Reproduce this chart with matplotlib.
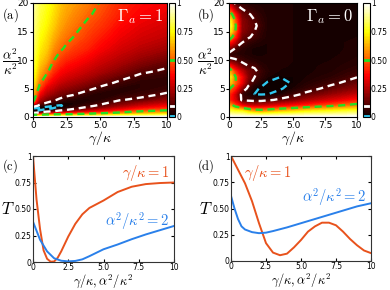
import numpy as np
import matplotlib
matplotlib.use('Agg')
import matplotlib.pyplot as plt

plt.rcParams['mathtext.fontset'] = 'cm'

# ---------------- panel (a): Gamma_a = 1 ----------------
gam_a = [0, 0.5, 1, 1.5, 2, 2.5, 3, 4, 5, 6.5, 8, 10]
alp_a = [0, 0.25, 0.5, 0.75, 1, 1.25, 1.5, 1.75, 2, 2.5, 3, 4, 5, 6, 7, 8, 10, 12, 14, 16, 18, 20]
# one list per gamma value, running along alpha^2
T_a = [
    [1.0, 0.62, 0.40, 0.07, 0.010, 0.003, 0.008, 0.09, 0.20, 0.47, 0.56, 0.65, 0.70, 0.74, 0.77, 0.79, 0.82, 0.85, 0.87, 0.88, 0.90, 0.91],
    [1.0, 0.64, 0.42, 0.13, 0.03, 0.005, 0.003, 0.02, 0.07, 0.17, 0.24, 0.35, 0.45, 0.52, 0.58, 0.62, 0.68, 0.72, 0.75, 0.78, 0.80, 0.82],
    [1.0, 0.66, 0.45, 0.20, 0.07, 0.02, 0.004, 0.007, 0.03, 0.10, 0.16, 0.25, 0.32, 0.40, 0.47, 0.53, 0.62, 0.67, 0.70, 0.73, 0.75, 0.77],
    [1.0, 0.68, 0.47, 0.26, 0.10, 0.04, 0.011, 0.006, 0.012, 0.06, 0.12, 0.20, 0.27, 0.33, 0.38, 0.43, 0.51, 0.58, 0.63, 0.67, 0.70, 0.72],
    [1.0, 0.70, 0.49, 0.30, 0.14, 0.07, 0.03, 0.012, 0.008, 0.03, 0.08, 0.16, 0.22, 0.28, 0.33, 0.37, 0.45, 0.52, 0.57, 0.61, 0.64, 0.66],
    [1.0, 0.72, 0.50, 0.33, 0.18, 0.10, 0.05, 0.025, 0.014, 0.02, 0.05, 0.13, 0.20, 0.25, 0.30, 0.34, 0.41, 0.48, 0.53, 0.57, 0.60, 0.62],
    [1.0, 0.73, 0.51, 0.36, 0.22, 0.13, 0.08, 0.045, 0.03, 0.02, 0.04, 0.11, 0.18, 0.23, 0.28, 0.32, 0.39, 0.45, 0.50, 0.54, 0.57, 0.60],
    [1.0, 0.76, 0.54, 0.40, 0.29, 0.20, 0.14, 0.10, 0.07, 0.04, 0.03, 0.06, 0.13, 0.19, 0.24, 0.28, 0.35, 0.41, 0.45, 0.48, 0.52, 0.55],
    [1.0, 0.78, 0.58, 0.45, 0.35, 0.27, 0.20, 0.15, 0.115, 0.07, 0.045, 0.035, 0.08, 0.14, 0.19, 0.24, 0.30, 0.36, 0.40, 0.44, 0.47, 0.495],
    [1.0, 0.81, 0.63, 0.52, 0.43, 0.35, 0.29, 0.24, 0.20, 0.14, 0.095, 0.05, 0.045, 0.08, 0.13, 0.18, 0.25, 0.30, 0.34, 0.37, 0.40, 0.42],
    [1.0, 0.83, 0.67, 0.58, 0.50, 0.43, 0.37, 0.32, 0.27, 0.20, 0.12, 0.07, 0.05, 0.05, 0.075, 0.12, 0.20, 0.26, 0.30, 0.33, 0.36, 0.38],
    [1.0, 0.86, 0.72, 0.62, 0.55, 0.48, 0.43, 0.38, 0.34, 0.26, 0.20, 0.11, 0.07, 0.055, 0.06, 0.08, 0.15, 0.22, 0.27, 0.30, 0.33, 0.35],
]

# ---------------- panel (b): Gamma_a = 0 ----------------
gam_b = [0, 0.5, 1, 1.5, 2, 2.5, 3, 4, 5, 6, 8, 10]
alp_b = list(range(0, 21))
T_b = [
    [1.0, 0.80, 0.62, 0.42, 0.44, 0.52, 0.70, 0.78, 0.65, 0.40, 0.13, 0.06, 0.20, 0.40, 0.60, 0.78, 0.85, 0.80, 0.62, 0.45, 0.30],
    [1.0, 0.76, 0.45, 0.30, 0.28, 0.40, 0.51, 0.51, 0.42, 0.25, 0.11, 0.05, 0.09, 0.25, 0.40, 0.50, 0.52, 0.48, 0.38, 0.22, 0.08],
    [1.0, 0.75, 0.35, 0.08, 0.07, 0.20, 0.34, 0.36, 0.27, 0.14, 0.075, 0.04, 0.05, 0.10, 0.15, 0.19, 0.20, 0.19, 0.15, 0.10, 0.06],
    [1.0, 0.66, 0.29, 0.07, 0.03, 0.07, 0.14, 0.18, 0.16, 0.10, 0.05, 0.03, 0.03, 0.06, 0.11, 0.14, 0.15, 0.14, 0.11, 0.07, 0.04],
    [1.0, 0.60, 0.27, 0.06, 0.0095, 0.02, 0.06, 0.10, 0.12, 0.085, 0.04, 0.02, 0.02, 0.04, 0.08, 0.10, 0.115, 0.10, 0.08, 0.05, 0.03],
    [1.0, 0.58, 0.275, 0.06, 0.007, 0.005, 0.025, 0.06, 0.07, 0.05, 0.03, 0.02, 0.02, 0.03, 0.05, 0.06, 0.07, 0.06, 0.05, 0.04, 0.03],
    [1.0, 0.60, 0.29, 0.08, 0.009, 0.003, 0.007, 0.025, 0.04, 0.035, 0.03, 0.025, 0.025, 0.025, 0.03, 0.03, 0.035, 0.035, 0.03, 0.03, 0.03],
    [1.0, 0.65, 0.33, 0.12, 0.025, 0.006, 0.004, 0.01, 0.022, 0.03, 0.03, 0.03, 0.03, 0.03, 0.03, 0.03, 0.03, 0.03, 0.03, 0.03, 0.03],
    [1.0, 0.68, 0.37, 0.16, 0.07, 0.025, 0.012, 0.012, 0.018, 0.022, 0.025, 0.025, 0.025, 0.025, 0.025, 0.025, 0.025, 0.025, 0.025, 0.025, 0.025],
    [1.0, 0.72, 0.41, 0.22, 0.12, 0.06, 0.035, 0.025, 0.02, 0.02, 0.02, 0.02, 0.02, 0.02, 0.02, 0.02, 0.02, 0.02, 0.02, 0.02, 0.02],
    [1.0, 0.76, 0.48, 0.30, 0.20, 0.13, 0.08, 0.05, 0.035, 0.03, 0.025, 0.02, 0.02, 0.02, 0.02, 0.02, 0.02, 0.02, 0.02, 0.02, 0.02],
    [1.0, 0.80, 0.55, 0.38, 0.27, 0.19, 0.14, 0.098, 0.07, 0.05, 0.04, 0.035, 0.03, 0.03, 0.025, 0.025, 0.02, 0.02, 0.02, 0.02, 0.02],
]

# ---------------- panel (c): cuts for Gamma_a = 1 ----------------
c_orange_x = [0, 0.25, 0.5, 0.75, 1.0, 1.25, 1.5, 1.75, 2.0, 2.5, 3.0, 3.5, 4.0, 5.0, 6.0, 7.0, 8.0, 9.0, 10.0]
c_orange_y = [1.0, 0.59, 0.31, 0.11, 0.03, 0.003, 0.005, 0.04, 0.10, 0.24, 0.36, 0.45, 0.51, 0.58, 0.66, 0.71, 0.735, 0.745, 0.75]
c_blue_x = [0, 0.5, 1, 1.5, 2, 2.5, 3, 3.5, 4, 5, 6, 7, 8, 9, 10]
c_blue_y = [0.38, 0.21, 0.10, 0.035, 0.012, 0.006, 0.01, 0.025, 0.055, 0.12, 0.165, 0.215, 0.26, 0.30, 0.34]

# ---------------- panel (d): cuts for Gamma_a = 0 ----------------
d_orange_x = [0, 0.5, 1, 1.5, 2, 2.5, 3, 3.5, 4, 4.5, 5, 5.5, 6, 6.5, 7, 7.5, 8, 8.5, 9, 9.5, 10]
d_orange_y = [1.0, 0.87, 0.74, 0.57, 0.36, 0.17, 0.08, 0.055, 0.07, 0.13, 0.20, 0.28, 0.33, 0.365, 0.365, 0.34, 0.28, 0.21, 0.15, 0.10, 0.075]
d_blue_x = [0, 0.25, 0.5, 0.75, 1, 1.5, 2, 2.5, 3, 4, 5, 6, 7, 8, 9, 10]
d_blue_y = [0.62, 0.50, 0.40, 0.33, 0.30, 0.275, 0.265, 0.27, 0.285, 0.32, 0.36, 0.40, 0.44, 0.48, 0.52, 0.55]

ORANGE = '#e8521c'
BLUE = '#2a80ea'
CYAN = '#30c8f0'
GREEN = '#22e022'

W, H = 390, 290
fig = plt.figure(figsize=(W / 100, H / 100), dpi=100)


def box(x0, y0, x1, y1):
    # pixel box -> figure fraction
    return [x0 / W, 1 - y1 / H, (x1 - x0) / W, (y1 - y0) / H]


def heatmap(ax, cax, gam, alp, T, label, frac_x):
    Z = np.array(T).T
    cf = ax.contourf(gam, alp, Z, levels=np.linspace(0, 1, 81), cmap='hot', vmin=0, vmax=1)
    dash = (0, (3, 2))
    ax.contour(gam, alp, Z, levels=[0.01], colors=[CYAN], linewidths=1.7, linestyles=[dash])
    ax.contour(gam, alp, Z, levels=[0.1], colors=['white'], linewidths=1.7, linestyles=[dash])
    ax.contour(gam, alp, Z, levels=[0.5], colors=[GREEN], linewidths=1.7, linestyles=[dash])
    ax.set_xlim(0, 10)
    ax.set_ylim(0, 20)
    ax.set_xticks([0, 2.5, 5, 7.5, 10])
    ax.set_xticklabels(['0', '2.5', '5.0', '7.5', '10'])
    ax.set_yticks([0, 5, 10, 15, 20])
    ax.tick_params(labelsize=6.5, pad=1, length=2)
    ax.set_xlabel(r'$\gamma/\kappa$', fontsize=10, labelpad=0)
    fig.text(frac_x / W, 1 - 62 / H, r'$\dfrac{\alpha^2}{\kappa^2}$',
             ha='center', va='center', fontsize=9.5)
    ax.text(9.7, 17.6, label, color='white', fontsize=12, ha='right', va='center')
    cb = fig.colorbar(cf, cax=cax, ticks=[0, 0.25, 0.5, 0.75, 1])
    cb.ax.set_yticklabels(['0', '0.25', '0.50', '0.75', '1'])
    cb.ax.tick_params(labelsize=5.5, pad=1, length=0)
    cb.ax.axhline(0.5, color=GREEN, lw=2)
    cb.ax.axhline(0.1, color='white', lw=2)
    cb.ax.axhline(0.012, color=CYAN, lw=2)


def cuts(ax, ox, oy, bx, by, olab, blab):
    ax.plot(ox, oy, color=ORANGE, lw=1.4)
    ax.plot(bx, by, color=BLUE, lw=1.4)
    ax.set_xlim(0, 10)
    ax.set_ylim(0, 1)
    ax.set_xticks([0, 2.5, 5, 7.5, 10])
    ax.set_xticklabels(['0', '2.5', '5.0', '7.5', '10'])
    ax.set_yticks([0, 0.25, 0.5, 0.75, 1])
    ax.set_yticklabels(['0', '0.25', '0.50', '0.75', '1'])
    ax.tick_params(labelsize=5.5, pad=1, length=2, direction='in', top=True, right=True)
    for s in ax.spines.values():
        s.set_color('#333333')
    ax.set_xlabel(r'$\gamma/\kappa,\alpha^2/\kappa^2$', fontsize=9, labelpad=0)
    ax.text(-0.13, 0.5, r'$T$', transform=ax.transAxes, ha='right', va='center', fontsize=12)
    ax.text(*olab[0], r'$\gamma/\kappa=1$', color=ORANGE, fontsize=10.5, ha=olab[1], va='center')
    ax.text(*blab[0], r'$\alpha^2/\kappa^2=2$', color=BLUE, fontsize=10.5, ha=blab[1], va='center')


ax_a = fig.add_axes(box(33, 3, 167, 117))
cax_a = fig.add_axes(box(169, 3, 175, 117))
heatmap(ax_a, cax_a, gam_a, alp_a, T_a, r'$\Gamma_a=1$', 10)

ax_b = fig.add_axes(box(229, 3, 357, 117))
cax_b = fig.add_axes(box(363, 3, 369.5, 117))
heatmap(ax_b, cax_b, gam_b, alp_b, T_b, r'$\Gamma_a=0$', 205)

ax_c = fig.add_axes(box(33, 156, 174, 262))
cuts(ax_c, c_orange_x, c_orange_y, c_blue_x, c_blue_y,
     ((9.7, 0.84), 'right'), ((9.7, 0.39), 'right'))

ax_d = fig.add_axes(box(231, 156, 371, 261))
cuts(ax_d, d_orange_x, d_orange_y, d_blue_x, d_blue_y,
     ((0.9, 0.84), 'left'), ((9.7, 0.61), 'right'))

for lab, x, y in [('(a)', 2, 15), ('(b)', 197, 15), ('(c)', 2, 166), ('(d)', 197, 166)]:
    fig.text(x / W, 1 - y / H, r'$\mathrm{' + lab + '}$', fontsize=9, ha='left', va='center')

fig.savefig('out.png', dpi=100)
